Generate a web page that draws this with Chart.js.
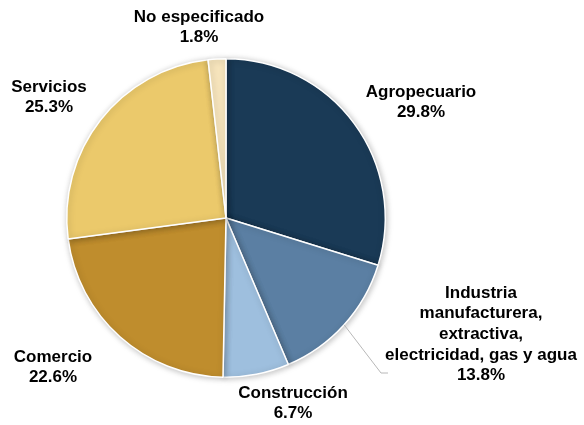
<!DOCTYPE html>
<html lang="es">
<head>
<meta charset="UTF-8" />
<title>Distribución por sector</title>
<script src="https://cdn.jsdelivr.net/npm/chart.js"></script>
<style>
  html, body { margin: 0; padding: 0; background: #fff; }
  #wrap { width: 584px; height: 425px; }
</style>
</head>
<body>
<div id="wrap"><canvas id="pie" width="584" height="425"></canvas></div>
<script>
const sectors = [
  "Agropecuario",
  "Industria manufacturera, extractiva, electricidad, gas y agua",
  "Construcción",
  "Comercio",
  "Servicios",
  "No especificado"
];
const shares = [29.8, 13.8, 6.7, 22.6, 25.3, 1.8];
const colors = ["#1a3a56", "#5b7fa3", "#9ebfde", "#bf8d2d", "#ebc96b", "#f6e4bc"];

// label text lines and where they sit (center x, first line y)
const labelLines = [
  ["Agropecuario"],
  ["Industria", "manufacturera,", "extractiva,", "electricidad, gas y agua"],
  ["Construcción"],
  ["Comercio"],
  ["Servicios"],
  ["No especificado"]
];
const labelAt = [[421, 92], [481, 293], [293, 393], [53, 357], [49, 87], [199, 17]];

const shadowPlugin = {
  id: 'shadow',
  beforeDatasetsDraw(chart) {
    const ctx = chart.ctx;
    ctx.save();
    ctx.shadowColor = 'rgba(0,0,0,0.25)';
    ctx.shadowBlur = 6;
    ctx.shadowOffsetX = 1;
    ctx.shadowOffsetY = 1;
  },
  afterDatasetsDraw(chart) {
    chart.ctx.restore();
  }
};

const labelPlugin = {
  id: 'outLabels',
  afterDraw(chart) {
    const ctx = chart.ctx;
    ctx.save();
    ctx.fillStyle = '#000';
    ctx.font = 'bold 17px "Liberation Sans", Arial, sans-serif';
    ctx.textAlign = 'center';
    ctx.textBaseline = 'middle';
    const lh = 20.7;
    labelLines.forEach((lines, i) => {
      const [x, y] = labelAt[i];
      lines.forEach((t, j) => ctx.fillText(t, x, y + j * lh));
      ctx.fillText(shares[i].toFixed(1) + '%', x, y + lines.length * lh);
    });
    // leader line for Industria
    const arc = chart.getDatasetMeta(0).data[1];
    const mid = (arc.startAngle + arc.endAngle) / 2;
    const sx = arc.x + Math.cos(mid) * arc.outerRadius;
    const sy = arc.y + Math.sin(mid) * arc.outerRadius;
    ctx.strokeStyle = '#b8b8b8';
    ctx.lineWidth = 1;
    ctx.beginPath();
    ctx.moveTo(sx, sy);
    ctx.lineTo(381, 373);
    ctx.lineTo(388, 373);
    ctx.stroke();
    ctx.restore();
  }
};

new Chart(document.getElementById('pie'), {
  type: 'pie',
  data: {
    labels: sectors,
    datasets: [{
      data: shares,
      backgroundColor: colors,
      borderColor: '#ffffff',
      borderWidth: 1.5
    }]
  },
  options: {
    responsive: false,
    animation: false,
    layout: { padding: { left: 66, right: 198, top: 58, bottom: 47 } },
    plugins: { legend: { display: false }, tooltip: { enabled: false } }
  },
  plugins: [shadowPlugin, labelPlugin]
});
</script>
</body>
</html>
